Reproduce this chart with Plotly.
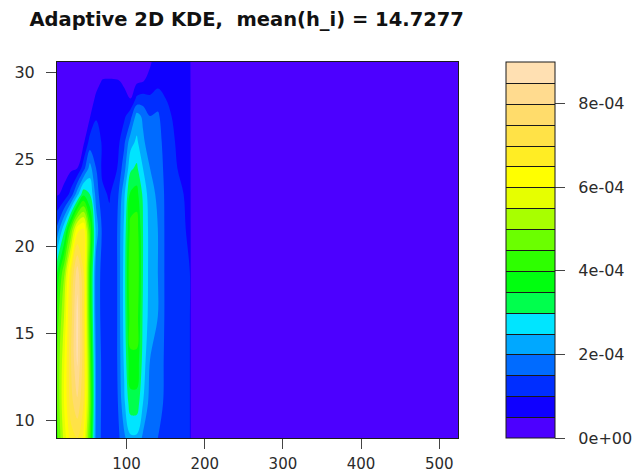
import colorsys
import numpy as np
import plotly.graph_objects as go

TITLE = "Adaptive 2D KDE,  mean(h_i) = 14.7277"

# grid positions (data units)
x_grid = [11, 20, 29, 37, 45, 53, 61, 69, 78, 88, 97, 105, 113, 121, 130,
          140, 150, 165, 181, 183, 524]
y_grid = [9, 11, 13.5, 16, 18.5, 21, 23, 24.5, 26, 27.5, 28.5, 29.5, 30.6]

# estimated density, in units of 1e-4, one row per y_grid value
dens_y09 = [4.3, 5.7, 6.8, 7.0, 6.4, 4.4, 1.8, 1.4, 1.25, 1.3, 1.9, 2.4, 2.4, 1.9, 1.6, 1.5, 1.3, 1.1, 1.0, 0.1, 0.0]
dens_y11 = [4.5, 6.0, 7.3, 7.9, 7.0, 4.8, 1.9, 1.4, 1.25, 1.4, 2.4, 3.3, 3.3, 2.5, 1.8, 1.7, 1.4, 1.2, 1.0, 0.1, 0.0]
dens_y135 = [4.5, 5.9, 7.5, 8.6, 7.2, 4.6, 1.9, 1.4, 1.25, 1.5, 2.6, 3.9, 3.9, 2.8, 2.0, 1.8, 1.4, 1.2, 1.0, 0.1, 0.0]
dens_y16 = [4.2, 5.5, 7.3, 8.7, 7.1, 4.2, 1.7, 1.4, 1.25, 1.5, 2.7, 4.3, 4.3, 2.9, 2.3, 2.0, 1.4, 1.2, 1.0, 0.1, 0.0]
dens_y185 = [3.5, 4.9, 6.9, 8.3, 7.0, 4.1, 1.7, 1.4, 1.25, 1.5, 2.7, 4.5, 4.5, 3.0, 2.3, 2.0, 1.4, 1.2, 1.0, 0.1, 0.0]
dens_y21 = [1.6, 2.8, 4.6, 6.3, 6.6, 4.4, 2.3, 1.4, 1.15, 1.5, 2.6, 4.2, 4.3, 3.0, 2.3, 2.0, 1.4, 1.1, 0.95, 0.1, 0.0]
dens_y23 = [0.45, 0.6, 1.2, 2.3, 3.4, 3.0, 1.8, 1.1, 0.95, 1.3, 2.4, 3.6, 3.7, 2.9, 2.2, 1.9, 1.4, 1.1, 0.9, 0.1, 0.0]
dens_y245 = [0.3, 0.35, 0.4, 0.5, 1.3, 2.2, 1.5, 0.9, 0.8, 1.0, 1.8, 2.9, 3.1, 2.5, 2.0, 1.9, 1.3, 1.0, 0.9, 0.1, 0.0]
dens_y26 = [0.3, 0.3, 0.3, 0.35, 0.4, 1.2, 1.5, 0.9, 0.75, 0.8, 1.4, 2.3, 2.6, 2.1, 1.7, 1.8, 1.2, 0.95, 0.85, 0.1, 0.0]
dens_y275 = [0.3, 0.3, 0.3, 0.3, 0.35, 0.45, 0.9, 0.8, 0.7, 0.7, 0.9, 1.3, 2.2, 1.9, 1.5, 1.6, 1.1, 0.9, 0.8, 0.1, 0.0]
dens_y285 = [0.3, 0.3, 0.3, 0.3, 0.3, 0.35, 0.55, 0.7, 0.65, 0.6, 0.55, 0.5, 1.1, 1.2, 1.1, 1.2, 1.0, 0.85, 0.8, 0.1, 0.0]
dens_y295 = [0.3, 0.3, 0.3, 0.3, 0.3, 0.3, 0.4, 0.52, 0.53, 0.52, 0.47, 0.35, 0.4, 0.48, 0.62, 0.85, 0.8, 0.75, 0.75, 0.1, 0.0]
dens_y306 = [0.3, 0.3, 0.3, 0.3, 0.3, 0.3, 0.3, 0.3, 0.3, 0.3, 0.3, 0.3, 0.3, 0.3, 0.45, 0.7, 0.7, 0.7, 0.7, 0.1, 0.0]

level_start = 5e-5
level_end = 8.5e-4
level_step = 5e-5
n_bands = 18

cbar_tickvals = [0, 2e-4, 4e-4, 6e-4, 8e-4]
cbar_ticktext = ["0e+00", "2e-04", "4e-04", "6e-04", "8e-04"]
x_tickvals = [100, 200, 300, 400, 500]
y_tickvals = [10, 15, 20, 25, 30]

z = np.array([dens_y09, dens_y11, dens_y135, dens_y16, dens_y185, dens_y21,
              dens_y23, dens_y245, dens_y26, dens_y275, dens_y285, dens_y295,
              dens_y306]) * 1e-4


def topo_colors(n):
    j = n // 3
    k = n // 3
    i = n - j - k
    out = []
    for h in np.linspace(43 / 60, 31 / 60, i):
        out.append(colorsys.hsv_to_rgb(h, 1, 1))
    for h in np.linspace(23 / 60, 11 / 60, j):
        out.append(colorsys.hsv_to_rgb(h, 1, 1))
    for h, s in zip(np.linspace(10 / 60, 6 / 60, k), np.linspace(1, 0.3, k)):
        out.append(colorsys.hsv_to_rgb(h, s, 1))
    return ["rgb(%d,%d,%d)" % tuple(round(c * 255) for c in rgb) for rgb in out]


cols = topo_colors(n_bands)
cscale = [[k / (n_bands - 1), c] for k, c in enumerate(cols)]

FONT = "DejaVu Sans"
TXT = "#2b2b2b"
PAD = "\u00a0\u00a0"

# plot box at 57..458 x 62..438 on screen
L, T, W, H = 57, 62, 401, 376

common = dict(
    x=x_grid, y=y_grid, z=z,
    colorscale=cscale, zmin=0, zmax=9e-4,
    contours=dict(start=level_start, end=level_end, size=level_step,
                  coloring="fill"),
    hoverinfo="skip",
)

fig = go.Figure()
# trace carrying the colour key (lines drawn between the key's bands)
fig.add_trace(go.Contour(
    **common,
    line=dict(color="#1a1a1a", width=1),
    showscale=True,
    colorbar=dict(
        x=(505.7 - 57) / W, xanchor="left", xpad=0,
        y=0.5, yanchor="middle", ypad=0, len=1, lenmode="fraction",
        thickness=49, thicknessmode="pixels",
        outlinecolor="#1a1a1a", outlinewidth=1,
        tickvals=cbar_tickvals, ticktext=[PAD + t for t in cbar_ticktext],
        ticks="outside", ticklen=10, tickcolor="#444", tickwidth=1,
        tickfont=dict(family=FONT, size=16, color=TXT),
    ),
))
# visible filled field without contour lines
fig.add_trace(go.Contour(
    **common,
    line=dict(width=0),
    showscale=False,
))
fig.data[1].contours.showlines = False

axis_common = dict(
    ticks="outside", ticklen=10, tickcolor="#444", tickwidth=1,
    showline=True, mirror=True, linecolor="#1a1a1a", linewidth=1,
    showgrid=False, zeroline=False,
)

fig.update_layout(
    width=638, height=472, autosize=False,
    margin=dict(l=L, r=638 - L - W, t=T, b=472 - T - H, autoexpand=False),
    paper_bgcolor="white", plot_bgcolor="white",
    title=dict(text="<b>" + TITLE + "</b>", x=246.7 / 638,
               xanchor="center", y=1 - 19 / 472, yanchor="middle",
               font=dict(family=FONT, size=19.5, color="#111")),
    xaxis=dict(range=[11, 524], tickvals=x_tickvals, automargin=False,
               ticklabelstandoff=2,
               tickfont=dict(family=FONT, size=15, color=TXT), **axis_common),
    yaxis=dict(range=[9, 30.6], tickvals=y_tickvals, automargin=False,
               ticklabelstandoff=8,
               tickfont=dict(family=FONT, size=16, color=TXT), **axis_common),
    showlegend=False,
)

fig.write_html(
    "out.html",
    config={"responsive": False, "displayModeBar": False},
    post_script="document.body.style.margin='0';"
                "document.body.style.overflow='hidden';",
)
